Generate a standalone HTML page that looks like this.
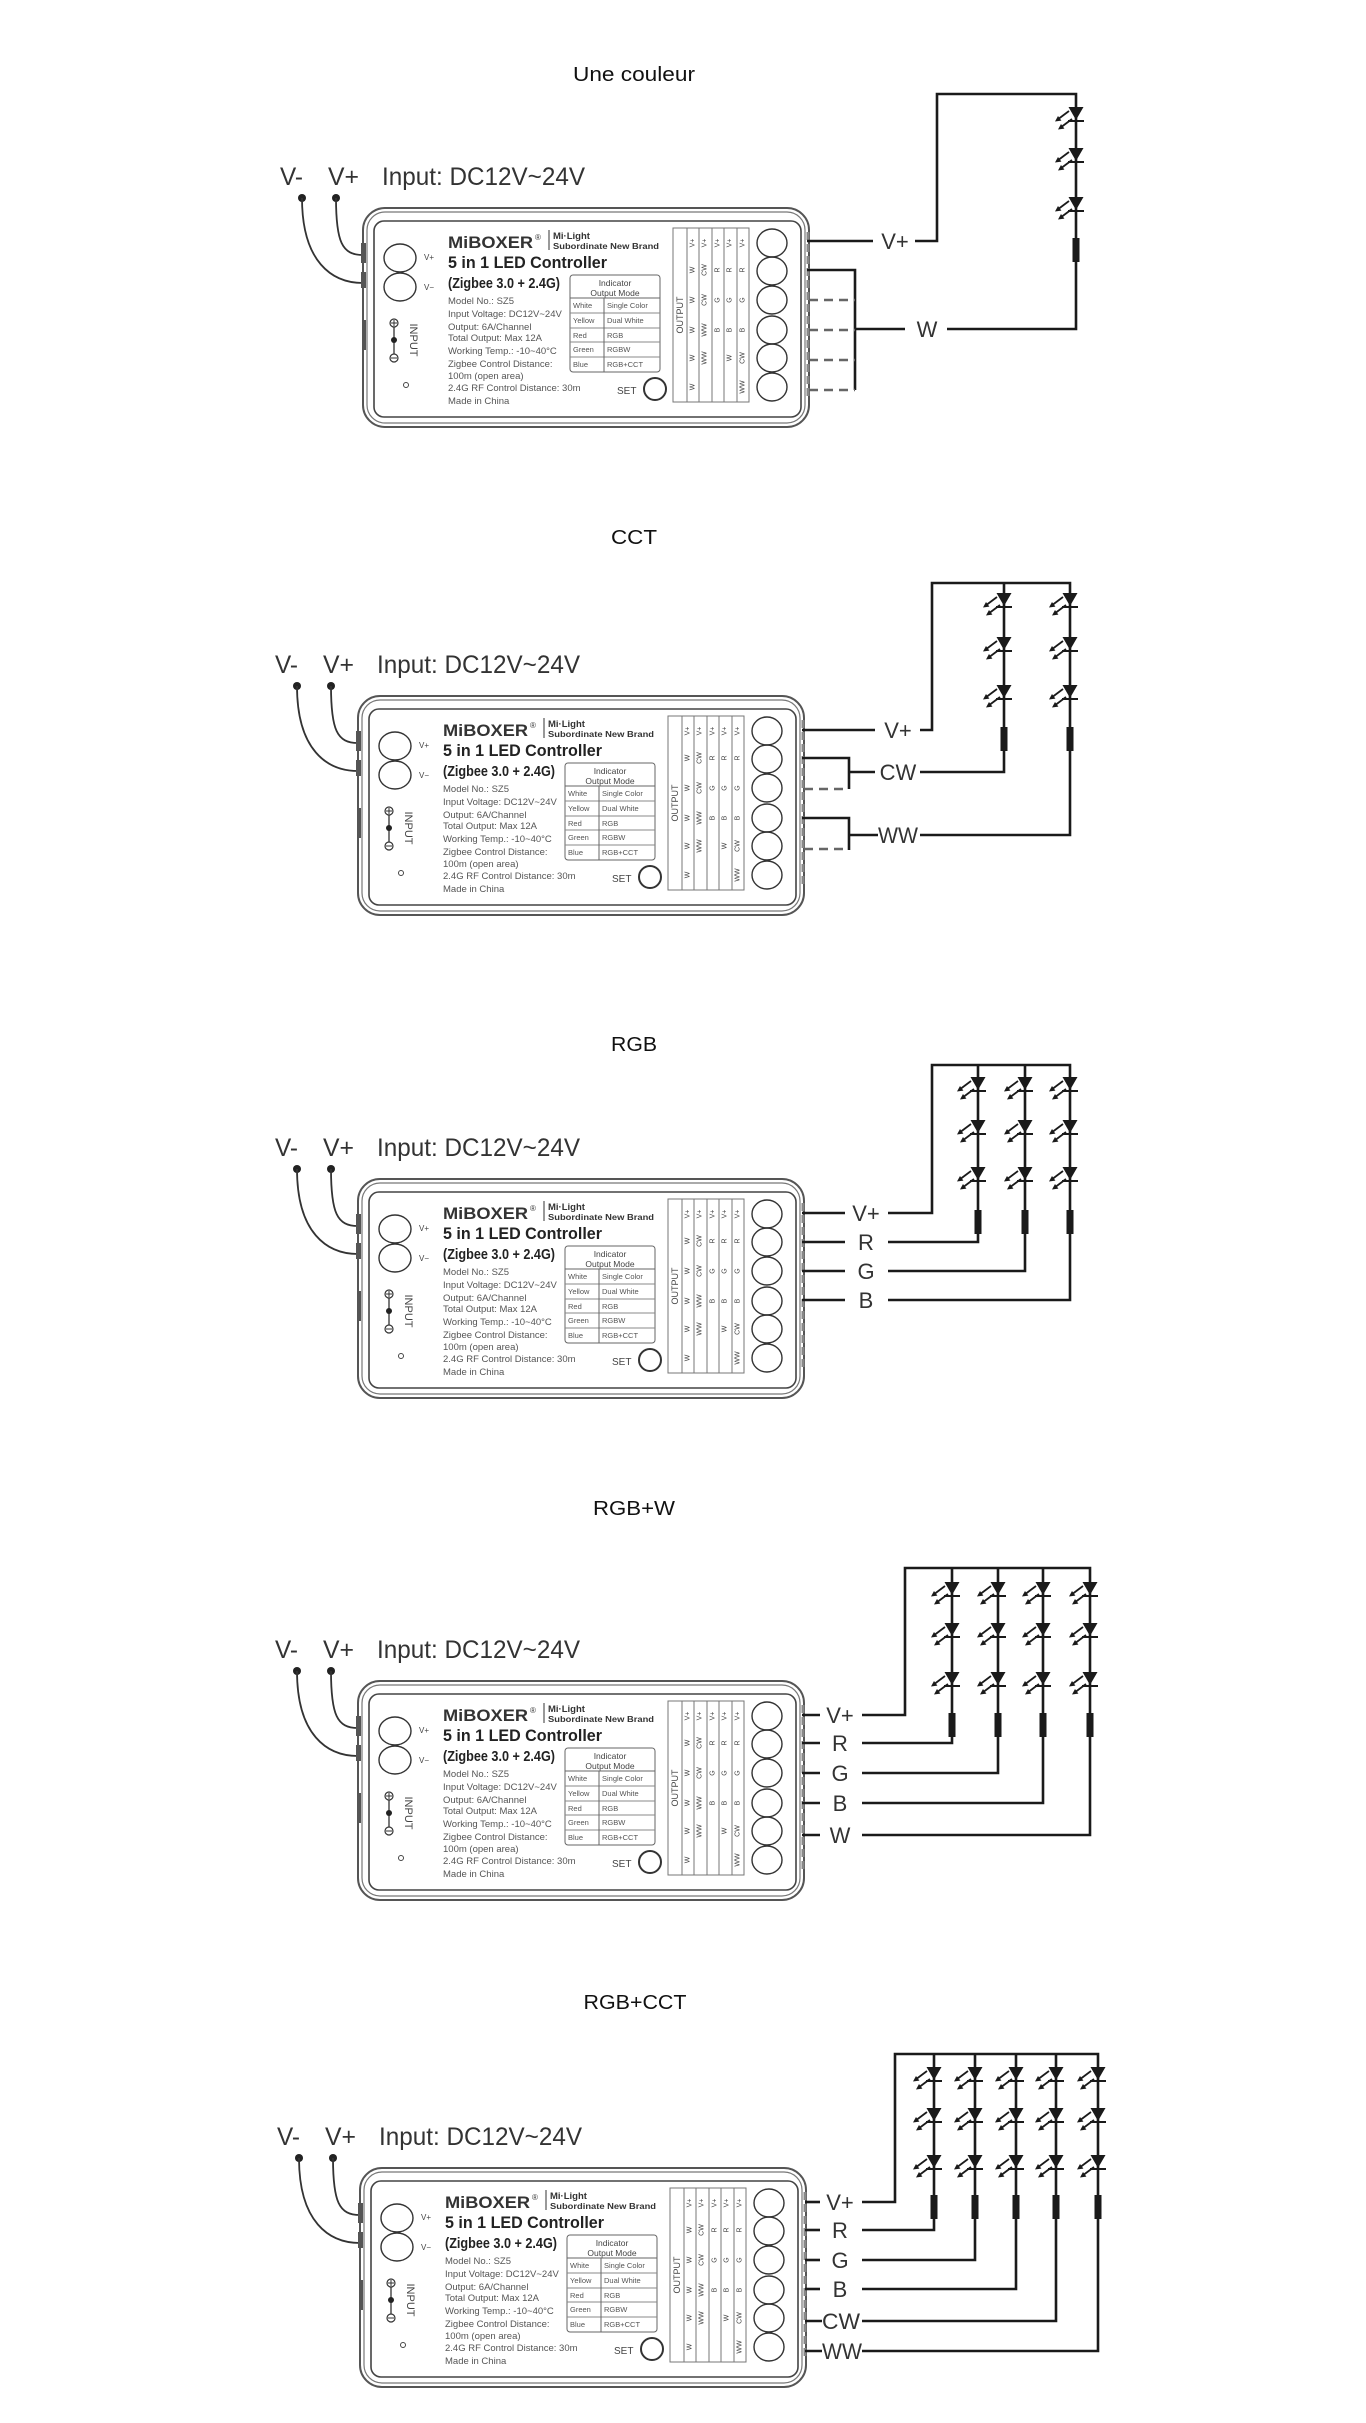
<!DOCTYPE html>
<html><head><meta charset="utf-8">
<style>
html,body{margin:0;padding:0;background:#fff;}
svg{display:block;}
text{font-family:"Liberation Sans",sans-serif;}
.t{font-size:20px;fill:#111;}
.lab{font-size:22px;fill:#333;}
.w{stroke:#1a1a1a;stroke-width:2.6;fill:none;}
.d{stroke:#666;stroke-width:2.6;fill:none;stroke-dasharray:9 6;}
.sp{font-size:9.5px;fill:#555;}
.tb{font-size:7.5px;fill:#555;}
.oc{font-size:7px;fill:#444;}
</style></head>
<body>
<svg width="1366" height="2423" viewBox="0 0 1366 2423" xmlns="http://www.w3.org/2000/svg">
<defs>
<g id="led">
<polygon points="-7.5,0 7.5,0 0,13" fill="#1a1a1a"/>
<line x1="-8" y1="14" x2="8" y2="14" stroke="#1a1a1a" stroke-width="2"/>
<line x1="-7" y1="4" x2="-17" y2="11.5" stroke="#1a1a1a" stroke-width="1.8"/>
<polygon points="-21,14.5 -14.6,13.6 -18,9" fill="#1a1a1a"/>
<line x1="-4" y1="12" x2="-14" y2="19.5" stroke="#1a1a1a" stroke-width="1.8"/>
<polygon points="-18,22.5 -11.6,21.6 -15,17" fill="#1a1a1a"/>
</g>
<rect id="res" x="-3.5" y="0" width="7" height="24" fill="#1a1a1a"/>
</defs>

<!-- Titles -->
<text class="t" x="634" y="81" text-anchor="middle" textLength="122" lengthAdjust="spacingAndGlyphs">Une couleur</text>
<text class="t" x="634" y="544" text-anchor="middle" textLength="46" lengthAdjust="spacingAndGlyphs">CCT</text>
<text class="t" x="634" y="1051" text-anchor="middle" textLength="46" lengthAdjust="spacingAndGlyphs">RGB</text>
<text class="t" x="634" y="1515" text-anchor="middle" textLength="82" lengthAdjust="spacingAndGlyphs">RGB+W</text>
<text class="t" x="635" y="2009" text-anchor="middle" textLength="103" lengthAdjust="spacingAndGlyphs">RGB+CCT</text>

<!-- ========== CONTROLLER 1 ========== -->
<g transform="translate(0,0)">
<text x="280" y="185" font-size="25" fill="#333" textLength="23" lengthAdjust="spacingAndGlyphs">V-</text>
<text x="328" y="185" font-size="25" fill="#333" textLength="31" lengthAdjust="spacingAndGlyphs">V+</text>
<text x="382" y="185" font-size="25" fill="#333" textLength="203" lengthAdjust="spacingAndGlyphs">Input: DC12V~24V</text>
<circle cx="302" cy="198" r="4" fill="#222"/><circle cx="336" cy="198" r="4" fill="#222"/>
<path d="M336 198 C336 242 342 255 363 255" stroke="#333" stroke-width="1.8" fill="none"/>
<path d="M302 198 C302 262 332 283 363 283" stroke="#333" stroke-width="1.8" fill="none"/>
<rect x="363" y="208" width="446" height="219" rx="22" fill="#fff" stroke="#555" stroke-width="2"/>
<rect x="367" y="212" width="438" height="211" rx="18" fill="none" stroke="#777" stroke-width="1.2"/>
<rect x="374" y="221" width="427" height="196" rx="10" fill="none" stroke="#444" stroke-width="1.6"/>
<rect x="361" y="243" width="5" height="20" fill="#555"/><rect x="361" y="272" width="5" height="16" fill="#555"/><rect x="362" y="320" width="4" height="30" fill="#555"/>
<line x1="808" y1="232" x2="808" y2="400" stroke="#888" stroke-width="3" stroke-dasharray="8 4"/>
<ellipse cx="400" cy="258" rx="16" ry="14" fill="none" stroke="#333" stroke-width="1.4"/>
<ellipse cx="400" cy="287" rx="16" ry="14" fill="none" stroke="#333" stroke-width="1.4"/>
<text x="424" y="260" font-size="8" fill="#444">V+</text><text x="424" y="290" font-size="8" fill="#444">V−</text>
<line x1="394" y1="323" x2="394" y2="358" stroke="#333" stroke-width="1.3"/>
<circle cx="394" cy="323" r="4" fill="#fff" stroke="#333" stroke-width="1.2"/><line x1="391" y1="323" x2="397" y2="323" stroke="#333"/><line x1="394" y1="320" x2="394" y2="326" stroke="#333"/>
<circle cx="394" cy="340" r="3" fill="#222"/>
<circle cx="394" cy="358" r="4" fill="#fff" stroke="#333" stroke-width="1.2"/><line x1="391" y1="358" x2="397" y2="358" stroke="#333"/>
<text transform="translate(410,340) rotate(90)" text-anchor="middle" font-size="11" fill="#444">INPUT</text>
<circle cx="406" cy="385" r="2.5" fill="none" stroke="#444"/>
<text x="448" y="248" font-size="17" font-weight="bold" fill="#333" textLength="85" lengthAdjust="spacingAndGlyphs">MiBOXER</text>
<text x="535" y="240" font-size="8" fill="#333">®</text>
<line x1="549" y1="230" x2="549" y2="250" stroke="#333"/>
<text x="553" y="239" font-size="9.5" font-weight="bold" font-family="Liberation Serif,serif" fill="#333">Mi·Light</text>
<text x="553" y="249" font-size="8.5" font-weight="bold" font-family="Liberation Serif,serif" fill="#333" textLength="106" lengthAdjust="spacingAndGlyphs">Subordinate New Brand</text>
<text x="448" y="268" font-size="17" font-weight="bold" fill="#222" textLength="159" lengthAdjust="spacingAndGlyphs">5 in 1 LED Controller</text>
<text x="448" y="288" font-size="15" font-weight="bold" fill="#222" textLength="112" lengthAdjust="spacingAndGlyphs">(Zigbee 3.0 + 2.4G)</text>
<text class="sp" x="448" y="304">Model No.: SZ5</text>
<text class="sp" x="448" y="317">Input Voltage: DC12V~24V</text>
<text class="sp" x="448" y="330">Output: 6A/Channel</text>
<text class="sp" x="448" y="341">Total Output: Max 12A</text>
<text class="sp" x="448" y="354">Working Temp.: -10~40°C</text>
<text class="sp" x="448" y="367">Zigbee Control Distance:</text>
<text class="sp" x="448" y="379">100m (open area)</text>
<text class="sp" x="448" y="391">2.4G RF Control Distance: 30m</text>
<text class="sp" x="448" y="404">Made in China</text>
<text x="617" y="394" font-size="10" fill="#444">SET</text>
<circle cx="655" cy="389" r="11" fill="none" stroke="#333" stroke-width="2"/>
<rect x="570" y="275" width="90" height="97" rx="3" fill="none" stroke="#666"/>
<text x="615" y="286" font-size="8.5" fill="#444" text-anchor="middle">Indicator</text>
<text x="615" y="296" font-size="8.5" fill="#444" text-anchor="middle">Output Mode</text>
<line x1="570" y1="298" x2="660" y2="298" stroke="#666"/><line x1="570" y1="313" x2="660" y2="313" stroke="#888"/><line x1="570" y1="328" x2="660" y2="328" stroke="#888"/><line x1="570" y1="342" x2="660" y2="342" stroke="#888"/><line x1="570" y1="357" x2="660" y2="357" stroke="#888"/>
<line x1="604" y1="298" x2="604" y2="372" stroke="#666"/>
<text class="tb" x="573" y="308">White</text><text class="tb" x="607" y="308">Single Color</text>
<text class="tb" x="573" y="323">Yellow</text><text class="tb" x="607" y="323">Dual White</text>
<text class="tb" x="573" y="338">Red</text><text class="tb" x="607" y="338">RGB</text>
<text class="tb" x="573" y="352">Green</text><text class="tb" x="607" y="352">RGBW</text>
<text class="tb" x="573" y="367">Blue</text><text class="tb" x="607" y="367">RGB+CCT</text>
<rect x="673" y="228" width="76" height="174" fill="none" stroke="#777"/>
<line x1="687" y1="228" x2="687" y2="402" stroke="#777"/><line x1="699" y1="228" x2="699" y2="402" stroke="#777"/><line x1="712" y1="228" x2="712" y2="402" stroke="#777"/><line x1="724" y1="228" x2="724" y2="402" stroke="#777"/><line x1="737" y1="228" x2="737" y2="402" stroke="#777"/>
<text transform="translate(680,315) rotate(-90)" text-anchor="middle" dominant-baseline="central" font-size="9" fill="#444">OUTPUT</text>
<g class="oc" text-anchor="middle" dominant-baseline="central">
<text transform="translate(693,243) rotate(-90)">V+</text><text transform="translate(693,270) rotate(-90)">W</text><text transform="translate(693,300) rotate(-90)">W</text><text transform="translate(693,330) rotate(-90)">W</text><text transform="translate(693,358) rotate(-90)">W</text><text transform="translate(693,387) rotate(-90)">W</text>
<text transform="translate(705,243) rotate(-90)">V+</text><text transform="translate(705,270) rotate(-90)">CW</text><text transform="translate(705,300) rotate(-90)">CW</text><text transform="translate(705,330) rotate(-90)">WW</text><text transform="translate(705,358) rotate(-90)">WW</text>
<text transform="translate(718,243) rotate(-90)">V+</text><text transform="translate(718,270) rotate(-90)">R</text><text transform="translate(718,300) rotate(-90)">G</text><text transform="translate(718,330) rotate(-90)">B</text>
<text transform="translate(730,243) rotate(-90)">V+</text><text transform="translate(730,270) rotate(-90)">R</text><text transform="translate(730,300) rotate(-90)">G</text><text transform="translate(730,330) rotate(-90)">B</text><text transform="translate(730,358) rotate(-90)">W</text>
<text transform="translate(743,243) rotate(-90)">V+</text><text transform="translate(743,270) rotate(-90)">R</text><text transform="translate(743,300) rotate(-90)">G</text><text transform="translate(743,330) rotate(-90)">B</text><text transform="translate(743,358) rotate(-90)">CW</text><text transform="translate(743,387) rotate(-90)">WW</text>
</g>
<g fill="none" stroke="#333" stroke-width="1.4">
<ellipse cx="772" cy="243" rx="15" ry="14"/><ellipse cx="772" cy="271" rx="15" ry="14"/><ellipse cx="772" cy="300" rx="15" ry="14"/><ellipse cx="772" cy="330" rx="15" ry="14"/><ellipse cx="772" cy="358" rx="15" ry="14"/><ellipse cx="772" cy="387" rx="15" ry="14"/>
</g>
</g>

<!-- ========== CONTROLLER 2 ========== -->
<g transform="translate(-5,488)">
<text x="280" y="185" font-size="25" fill="#333" textLength="23" lengthAdjust="spacingAndGlyphs">V-</text>
<text x="328" y="185" font-size="25" fill="#333" textLength="31" lengthAdjust="spacingAndGlyphs">V+</text>
<text x="382" y="185" font-size="25" fill="#333" textLength="203" lengthAdjust="spacingAndGlyphs">Input: DC12V~24V</text>
<circle cx="302" cy="198" r="4" fill="#222"/><circle cx="336" cy="198" r="4" fill="#222"/>
<path d="M336 198 C336 242 342 255 363 255" stroke="#333" stroke-width="1.8" fill="none"/>
<path d="M302 198 C302 262 332 283 363 283" stroke="#333" stroke-width="1.8" fill="none"/>
<rect x="363" y="208" width="446" height="219" rx="22" fill="#fff" stroke="#555" stroke-width="2"/>
<rect x="367" y="212" width="438" height="211" rx="18" fill="none" stroke="#777" stroke-width="1.2"/>
<rect x="374" y="221" width="427" height="196" rx="10" fill="none" stroke="#444" stroke-width="1.6"/>
<rect x="361" y="243" width="5" height="20" fill="#555"/><rect x="361" y="272" width="5" height="16" fill="#555"/><rect x="362" y="320" width="4" height="30" fill="#555"/>
<line x1="808" y1="232" x2="808" y2="400" stroke="#888" stroke-width="3" stroke-dasharray="8 4"/>
<ellipse cx="400" cy="258" rx="16" ry="14" fill="none" stroke="#333" stroke-width="1.4"/>
<ellipse cx="400" cy="287" rx="16" ry="14" fill="none" stroke="#333" stroke-width="1.4"/>
<text x="424" y="260" font-size="8" fill="#444">V+</text><text x="424" y="290" font-size="8" fill="#444">V−</text>
<line x1="394" y1="323" x2="394" y2="358" stroke="#333" stroke-width="1.3"/>
<circle cx="394" cy="323" r="4" fill="#fff" stroke="#333" stroke-width="1.2"/><line x1="391" y1="323" x2="397" y2="323" stroke="#333"/><line x1="394" y1="320" x2="394" y2="326" stroke="#333"/>
<circle cx="394" cy="340" r="3" fill="#222"/>
<circle cx="394" cy="358" r="4" fill="#fff" stroke="#333" stroke-width="1.2"/><line x1="391" y1="358" x2="397" y2="358" stroke="#333"/>
<text transform="translate(410,340) rotate(90)" text-anchor="middle" font-size="11" fill="#444">INPUT</text>
<circle cx="406" cy="385" r="2.5" fill="none" stroke="#444"/>
<text x="448" y="248" font-size="17" font-weight="bold" fill="#333" textLength="85" lengthAdjust="spacingAndGlyphs">MiBOXER</text>
<text x="535" y="240" font-size="8" fill="#333">®</text>
<line x1="549" y1="230" x2="549" y2="250" stroke="#333"/>
<text x="553" y="239" font-size="9.5" font-weight="bold" font-family="Liberation Serif,serif" fill="#333">Mi·Light</text>
<text x="553" y="249" font-size="8.5" font-weight="bold" font-family="Liberation Serif,serif" fill="#333" textLength="106" lengthAdjust="spacingAndGlyphs">Subordinate New Brand</text>
<text x="448" y="268" font-size="17" font-weight="bold" fill="#222" textLength="159" lengthAdjust="spacingAndGlyphs">5 in 1 LED Controller</text>
<text x="448" y="288" font-size="15" font-weight="bold" fill="#222" textLength="112" lengthAdjust="spacingAndGlyphs">(Zigbee 3.0 + 2.4G)</text>
<text class="sp" x="448" y="304">Model No.: SZ5</text>
<text class="sp" x="448" y="317">Input Voltage: DC12V~24V</text>
<text class="sp" x="448" y="330">Output: 6A/Channel</text>
<text class="sp" x="448" y="341">Total Output: Max 12A</text>
<text class="sp" x="448" y="354">Working Temp.: -10~40°C</text>
<text class="sp" x="448" y="367">Zigbee Control Distance:</text>
<text class="sp" x="448" y="379">100m (open area)</text>
<text class="sp" x="448" y="391">2.4G RF Control Distance: 30m</text>
<text class="sp" x="448" y="404">Made in China</text>
<text x="617" y="394" font-size="10" fill="#444">SET</text>
<circle cx="655" cy="389" r="11" fill="none" stroke="#333" stroke-width="2"/>
<rect x="570" y="275" width="90" height="97" rx="3" fill="none" stroke="#666"/>
<text x="615" y="286" font-size="8.5" fill="#444" text-anchor="middle">Indicator</text>
<text x="615" y="296" font-size="8.5" fill="#444" text-anchor="middle">Output Mode</text>
<line x1="570" y1="298" x2="660" y2="298" stroke="#666"/><line x1="570" y1="313" x2="660" y2="313" stroke="#888"/><line x1="570" y1="328" x2="660" y2="328" stroke="#888"/><line x1="570" y1="342" x2="660" y2="342" stroke="#888"/><line x1="570" y1="357" x2="660" y2="357" stroke="#888"/>
<line x1="604" y1="298" x2="604" y2="372" stroke="#666"/>
<text class="tb" x="573" y="308">White</text><text class="tb" x="607" y="308">Single Color</text>
<text class="tb" x="573" y="323">Yellow</text><text class="tb" x="607" y="323">Dual White</text>
<text class="tb" x="573" y="338">Red</text><text class="tb" x="607" y="338">RGB</text>
<text class="tb" x="573" y="352">Green</text><text class="tb" x="607" y="352">RGBW</text>
<text class="tb" x="573" y="367">Blue</text><text class="tb" x="607" y="367">RGB+CCT</text>
<rect x="673" y="228" width="76" height="174" fill="none" stroke="#777"/>
<line x1="687" y1="228" x2="687" y2="402" stroke="#777"/><line x1="699" y1="228" x2="699" y2="402" stroke="#777"/><line x1="712" y1="228" x2="712" y2="402" stroke="#777"/><line x1="724" y1="228" x2="724" y2="402" stroke="#777"/><line x1="737" y1="228" x2="737" y2="402" stroke="#777"/>
<text transform="translate(680,315) rotate(-90)" text-anchor="middle" dominant-baseline="central" font-size="9" fill="#444">OUTPUT</text>
<g class="oc" text-anchor="middle" dominant-baseline="central">
<text transform="translate(693,243) rotate(-90)">V+</text><text transform="translate(693,270) rotate(-90)">W</text><text transform="translate(693,300) rotate(-90)">W</text><text transform="translate(693,330) rotate(-90)">W</text><text transform="translate(693,358) rotate(-90)">W</text><text transform="translate(693,387) rotate(-90)">W</text>
<text transform="translate(705,243) rotate(-90)">V+</text><text transform="translate(705,270) rotate(-90)">CW</text><text transform="translate(705,300) rotate(-90)">CW</text><text transform="translate(705,330) rotate(-90)">WW</text><text transform="translate(705,358) rotate(-90)">WW</text>
<text transform="translate(718,243) rotate(-90)">V+</text><text transform="translate(718,270) rotate(-90)">R</text><text transform="translate(718,300) rotate(-90)">G</text><text transform="translate(718,330) rotate(-90)">B</text>
<text transform="translate(730,243) rotate(-90)">V+</text><text transform="translate(730,270) rotate(-90)">R</text><text transform="translate(730,300) rotate(-90)">G</text><text transform="translate(730,330) rotate(-90)">B</text><text transform="translate(730,358) rotate(-90)">W</text>
<text transform="translate(743,243) rotate(-90)">V+</text><text transform="translate(743,270) rotate(-90)">R</text><text transform="translate(743,300) rotate(-90)">G</text><text transform="translate(743,330) rotate(-90)">B</text><text transform="translate(743,358) rotate(-90)">CW</text><text transform="translate(743,387) rotate(-90)">WW</text>
</g>
<g fill="none" stroke="#333" stroke-width="1.4">
<ellipse cx="772" cy="243" rx="15" ry="14"/><ellipse cx="772" cy="271" rx="15" ry="14"/><ellipse cx="772" cy="300" rx="15" ry="14"/><ellipse cx="772" cy="330" rx="15" ry="14"/><ellipse cx="772" cy="358" rx="15" ry="14"/><ellipse cx="772" cy="387" rx="15" ry="14"/>
</g>
</g>

<!-- ========== CONTROLLER 3 ========== -->
<g transform="translate(-5,971)">
<text x="280" y="185" font-size="25" fill="#333" textLength="23" lengthAdjust="spacingAndGlyphs">V-</text>
<text x="328" y="185" font-size="25" fill="#333" textLength="31" lengthAdjust="spacingAndGlyphs">V+</text>
<text x="382" y="185" font-size="25" fill="#333" textLength="203" lengthAdjust="spacingAndGlyphs">Input: DC12V~24V</text>
<circle cx="302" cy="198" r="4" fill="#222"/><circle cx="336" cy="198" r="4" fill="#222"/>
<path d="M336 198 C336 242 342 255 363 255" stroke="#333" stroke-width="1.8" fill="none"/>
<path d="M302 198 C302 262 332 283 363 283" stroke="#333" stroke-width="1.8" fill="none"/>
<rect x="363" y="208" width="446" height="219" rx="22" fill="#fff" stroke="#555" stroke-width="2"/>
<rect x="367" y="212" width="438" height="211" rx="18" fill="none" stroke="#777" stroke-width="1.2"/>
<rect x="374" y="221" width="427" height="196" rx="10" fill="none" stroke="#444" stroke-width="1.6"/>
<rect x="361" y="243" width="5" height="20" fill="#555"/><rect x="361" y="272" width="5" height="16" fill="#555"/><rect x="362" y="320" width="4" height="30" fill="#555"/>
<line x1="808" y1="232" x2="808" y2="400" stroke="#888" stroke-width="3" stroke-dasharray="8 4"/>
<ellipse cx="400" cy="258" rx="16" ry="14" fill="none" stroke="#333" stroke-width="1.4"/>
<ellipse cx="400" cy="287" rx="16" ry="14" fill="none" stroke="#333" stroke-width="1.4"/>
<text x="424" y="260" font-size="8" fill="#444">V+</text><text x="424" y="290" font-size="8" fill="#444">V−</text>
<line x1="394" y1="323" x2="394" y2="358" stroke="#333" stroke-width="1.3"/>
<circle cx="394" cy="323" r="4" fill="#fff" stroke="#333" stroke-width="1.2"/><line x1="391" y1="323" x2="397" y2="323" stroke="#333"/><line x1="394" y1="320" x2="394" y2="326" stroke="#333"/>
<circle cx="394" cy="340" r="3" fill="#222"/>
<circle cx="394" cy="358" r="4" fill="#fff" stroke="#333" stroke-width="1.2"/><line x1="391" y1="358" x2="397" y2="358" stroke="#333"/>
<text transform="translate(410,340) rotate(90)" text-anchor="middle" font-size="11" fill="#444">INPUT</text>
<circle cx="406" cy="385" r="2.5" fill="none" stroke="#444"/>
<text x="448" y="248" font-size="17" font-weight="bold" fill="#333" textLength="85" lengthAdjust="spacingAndGlyphs">MiBOXER</text>
<text x="535" y="240" font-size="8" fill="#333">®</text>
<line x1="549" y1="230" x2="549" y2="250" stroke="#333"/>
<text x="553" y="239" font-size="9.5" font-weight="bold" font-family="Liberation Serif,serif" fill="#333">Mi·Light</text>
<text x="553" y="249" font-size="8.5" font-weight="bold" font-family="Liberation Serif,serif" fill="#333" textLength="106" lengthAdjust="spacingAndGlyphs">Subordinate New Brand</text>
<text x="448" y="268" font-size="17" font-weight="bold" fill="#222" textLength="159" lengthAdjust="spacingAndGlyphs">5 in 1 LED Controller</text>
<text x="448" y="288" font-size="15" font-weight="bold" fill="#222" textLength="112" lengthAdjust="spacingAndGlyphs">(Zigbee 3.0 + 2.4G)</text>
<text class="sp" x="448" y="304">Model No.: SZ5</text>
<text class="sp" x="448" y="317">Input Voltage: DC12V~24V</text>
<text class="sp" x="448" y="330">Output: 6A/Channel</text>
<text class="sp" x="448" y="341">Total Output: Max 12A</text>
<text class="sp" x="448" y="354">Working Temp.: -10~40°C</text>
<text class="sp" x="448" y="367">Zigbee Control Distance:</text>
<text class="sp" x="448" y="379">100m (open area)</text>
<text class="sp" x="448" y="391">2.4G RF Control Distance: 30m</text>
<text class="sp" x="448" y="404">Made in China</text>
<text x="617" y="394" font-size="10" fill="#444">SET</text>
<circle cx="655" cy="389" r="11" fill="none" stroke="#333" stroke-width="2"/>
<rect x="570" y="275" width="90" height="97" rx="3" fill="none" stroke="#666"/>
<text x="615" y="286" font-size="8.5" fill="#444" text-anchor="middle">Indicator</text>
<text x="615" y="296" font-size="8.5" fill="#444" text-anchor="middle">Output Mode</text>
<line x1="570" y1="298" x2="660" y2="298" stroke="#666"/><line x1="570" y1="313" x2="660" y2="313" stroke="#888"/><line x1="570" y1="328" x2="660" y2="328" stroke="#888"/><line x1="570" y1="342" x2="660" y2="342" stroke="#888"/><line x1="570" y1="357" x2="660" y2="357" stroke="#888"/>
<line x1="604" y1="298" x2="604" y2="372" stroke="#666"/>
<text class="tb" x="573" y="308">White</text><text class="tb" x="607" y="308">Single Color</text>
<text class="tb" x="573" y="323">Yellow</text><text class="tb" x="607" y="323">Dual White</text>
<text class="tb" x="573" y="338">Red</text><text class="tb" x="607" y="338">RGB</text>
<text class="tb" x="573" y="352">Green</text><text class="tb" x="607" y="352">RGBW</text>
<text class="tb" x="573" y="367">Blue</text><text class="tb" x="607" y="367">RGB+CCT</text>
<rect x="673" y="228" width="76" height="174" fill="none" stroke="#777"/>
<line x1="687" y1="228" x2="687" y2="402" stroke="#777"/><line x1="699" y1="228" x2="699" y2="402" stroke="#777"/><line x1="712" y1="228" x2="712" y2="402" stroke="#777"/><line x1="724" y1="228" x2="724" y2="402" stroke="#777"/><line x1="737" y1="228" x2="737" y2="402" stroke="#777"/>
<text transform="translate(680,315) rotate(-90)" text-anchor="middle" dominant-baseline="central" font-size="9" fill="#444">OUTPUT</text>
<g class="oc" text-anchor="middle" dominant-baseline="central">
<text transform="translate(693,243) rotate(-90)">V+</text><text transform="translate(693,270) rotate(-90)">W</text><text transform="translate(693,300) rotate(-90)">W</text><text transform="translate(693,330) rotate(-90)">W</text><text transform="translate(693,358) rotate(-90)">W</text><text transform="translate(693,387) rotate(-90)">W</text>
<text transform="translate(705,243) rotate(-90)">V+</text><text transform="translate(705,270) rotate(-90)">CW</text><text transform="translate(705,300) rotate(-90)">CW</text><text transform="translate(705,330) rotate(-90)">WW</text><text transform="translate(705,358) rotate(-90)">WW</text>
<text transform="translate(718,243) rotate(-90)">V+</text><text transform="translate(718,270) rotate(-90)">R</text><text transform="translate(718,300) rotate(-90)">G</text><text transform="translate(718,330) rotate(-90)">B</text>
<text transform="translate(730,243) rotate(-90)">V+</text><text transform="translate(730,270) rotate(-90)">R</text><text transform="translate(730,300) rotate(-90)">G</text><text transform="translate(730,330) rotate(-90)">B</text><text transform="translate(730,358) rotate(-90)">W</text>
<text transform="translate(743,243) rotate(-90)">V+</text><text transform="translate(743,270) rotate(-90)">R</text><text transform="translate(743,300) rotate(-90)">G</text><text transform="translate(743,330) rotate(-90)">B</text><text transform="translate(743,358) rotate(-90)">CW</text><text transform="translate(743,387) rotate(-90)">WW</text>
</g>
<g fill="none" stroke="#333" stroke-width="1.4">
<ellipse cx="772" cy="243" rx="15" ry="14"/><ellipse cx="772" cy="271" rx="15" ry="14"/><ellipse cx="772" cy="300" rx="15" ry="14"/><ellipse cx="772" cy="330" rx="15" ry="14"/><ellipse cx="772" cy="358" rx="15" ry="14"/><ellipse cx="772" cy="387" rx="15" ry="14"/>
</g>
</g>

<!-- ========== CONTROLLER 4 ========== -->
<g transform="translate(-5,1473)">
<text x="280" y="185" font-size="25" fill="#333" textLength="23" lengthAdjust="spacingAndGlyphs">V-</text>
<text x="328" y="185" font-size="25" fill="#333" textLength="31" lengthAdjust="spacingAndGlyphs">V+</text>
<text x="382" y="185" font-size="25" fill="#333" textLength="203" lengthAdjust="spacingAndGlyphs">Input: DC12V~24V</text>
<circle cx="302" cy="198" r="4" fill="#222"/><circle cx="336" cy="198" r="4" fill="#222"/>
<path d="M336 198 C336 242 342 255 363 255" stroke="#333" stroke-width="1.8" fill="none"/>
<path d="M302 198 C302 262 332 283 363 283" stroke="#333" stroke-width="1.8" fill="none"/>
<rect x="363" y="208" width="446" height="219" rx="22" fill="#fff" stroke="#555" stroke-width="2"/>
<rect x="367" y="212" width="438" height="211" rx="18" fill="none" stroke="#777" stroke-width="1.2"/>
<rect x="374" y="221" width="427" height="196" rx="10" fill="none" stroke="#444" stroke-width="1.6"/>
<rect x="361" y="243" width="5" height="20" fill="#555"/><rect x="361" y="272" width="5" height="16" fill="#555"/><rect x="362" y="320" width="4" height="30" fill="#555"/>
<line x1="808" y1="232" x2="808" y2="400" stroke="#888" stroke-width="3" stroke-dasharray="8 4"/>
<ellipse cx="400" cy="258" rx="16" ry="14" fill="none" stroke="#333" stroke-width="1.4"/>
<ellipse cx="400" cy="287" rx="16" ry="14" fill="none" stroke="#333" stroke-width="1.4"/>
<text x="424" y="260" font-size="8" fill="#444">V+</text><text x="424" y="290" font-size="8" fill="#444">V−</text>
<line x1="394" y1="323" x2="394" y2="358" stroke="#333" stroke-width="1.3"/>
<circle cx="394" cy="323" r="4" fill="#fff" stroke="#333" stroke-width="1.2"/><line x1="391" y1="323" x2="397" y2="323" stroke="#333"/><line x1="394" y1="320" x2="394" y2="326" stroke="#333"/>
<circle cx="394" cy="340" r="3" fill="#222"/>
<circle cx="394" cy="358" r="4" fill="#fff" stroke="#333" stroke-width="1.2"/><line x1="391" y1="358" x2="397" y2="358" stroke="#333"/>
<text transform="translate(410,340) rotate(90)" text-anchor="middle" font-size="11" fill="#444">INPUT</text>
<circle cx="406" cy="385" r="2.5" fill="none" stroke="#444"/>
<text x="448" y="248" font-size="17" font-weight="bold" fill="#333" textLength="85" lengthAdjust="spacingAndGlyphs">MiBOXER</text>
<text x="535" y="240" font-size="8" fill="#333">®</text>
<line x1="549" y1="230" x2="549" y2="250" stroke="#333"/>
<text x="553" y="239" font-size="9.5" font-weight="bold" font-family="Liberation Serif,serif" fill="#333">Mi·Light</text>
<text x="553" y="249" font-size="8.5" font-weight="bold" font-family="Liberation Serif,serif" fill="#333" textLength="106" lengthAdjust="spacingAndGlyphs">Subordinate New Brand</text>
<text x="448" y="268" font-size="17" font-weight="bold" fill="#222" textLength="159" lengthAdjust="spacingAndGlyphs">5 in 1 LED Controller</text>
<text x="448" y="288" font-size="15" font-weight="bold" fill="#222" textLength="112" lengthAdjust="spacingAndGlyphs">(Zigbee 3.0 + 2.4G)</text>
<text class="sp" x="448" y="304">Model No.: SZ5</text>
<text class="sp" x="448" y="317">Input Voltage: DC12V~24V</text>
<text class="sp" x="448" y="330">Output: 6A/Channel</text>
<text class="sp" x="448" y="341">Total Output: Max 12A</text>
<text class="sp" x="448" y="354">Working Temp.: -10~40°C</text>
<text class="sp" x="448" y="367">Zigbee Control Distance:</text>
<text class="sp" x="448" y="379">100m (open area)</text>
<text class="sp" x="448" y="391">2.4G RF Control Distance: 30m</text>
<text class="sp" x="448" y="404">Made in China</text>
<text x="617" y="394" font-size="10" fill="#444">SET</text>
<circle cx="655" cy="389" r="11" fill="none" stroke="#333" stroke-width="2"/>
<rect x="570" y="275" width="90" height="97" rx="3" fill="none" stroke="#666"/>
<text x="615" y="286" font-size="8.5" fill="#444" text-anchor="middle">Indicator</text>
<text x="615" y="296" font-size="8.5" fill="#444" text-anchor="middle">Output Mode</text>
<line x1="570" y1="298" x2="660" y2="298" stroke="#666"/><line x1="570" y1="313" x2="660" y2="313" stroke="#888"/><line x1="570" y1="328" x2="660" y2="328" stroke="#888"/><line x1="570" y1="342" x2="660" y2="342" stroke="#888"/><line x1="570" y1="357" x2="660" y2="357" stroke="#888"/>
<line x1="604" y1="298" x2="604" y2="372" stroke="#666"/>
<text class="tb" x="573" y="308">White</text><text class="tb" x="607" y="308">Single Color</text>
<text class="tb" x="573" y="323">Yellow</text><text class="tb" x="607" y="323">Dual White</text>
<text class="tb" x="573" y="338">Red</text><text class="tb" x="607" y="338">RGB</text>
<text class="tb" x="573" y="352">Green</text><text class="tb" x="607" y="352">RGBW</text>
<text class="tb" x="573" y="367">Blue</text><text class="tb" x="607" y="367">RGB+CCT</text>
<rect x="673" y="228" width="76" height="174" fill="none" stroke="#777"/>
<line x1="687" y1="228" x2="687" y2="402" stroke="#777"/><line x1="699" y1="228" x2="699" y2="402" stroke="#777"/><line x1="712" y1="228" x2="712" y2="402" stroke="#777"/><line x1="724" y1="228" x2="724" y2="402" stroke="#777"/><line x1="737" y1="228" x2="737" y2="402" stroke="#777"/>
<text transform="translate(680,315) rotate(-90)" text-anchor="middle" dominant-baseline="central" font-size="9" fill="#444">OUTPUT</text>
<g class="oc" text-anchor="middle" dominant-baseline="central">
<text transform="translate(693,243) rotate(-90)">V+</text><text transform="translate(693,270) rotate(-90)">W</text><text transform="translate(693,300) rotate(-90)">W</text><text transform="translate(693,330) rotate(-90)">W</text><text transform="translate(693,358) rotate(-90)">W</text><text transform="translate(693,387) rotate(-90)">W</text>
<text transform="translate(705,243) rotate(-90)">V+</text><text transform="translate(705,270) rotate(-90)">CW</text><text transform="translate(705,300) rotate(-90)">CW</text><text transform="translate(705,330) rotate(-90)">WW</text><text transform="translate(705,358) rotate(-90)">WW</text>
<text transform="translate(718,243) rotate(-90)">V+</text><text transform="translate(718,270) rotate(-90)">R</text><text transform="translate(718,300) rotate(-90)">G</text><text transform="translate(718,330) rotate(-90)">B</text>
<text transform="translate(730,243) rotate(-90)">V+</text><text transform="translate(730,270) rotate(-90)">R</text><text transform="translate(730,300) rotate(-90)">G</text><text transform="translate(730,330) rotate(-90)">B</text><text transform="translate(730,358) rotate(-90)">W</text>
<text transform="translate(743,243) rotate(-90)">V+</text><text transform="translate(743,270) rotate(-90)">R</text><text transform="translate(743,300) rotate(-90)">G</text><text transform="translate(743,330) rotate(-90)">B</text><text transform="translate(743,358) rotate(-90)">CW</text><text transform="translate(743,387) rotate(-90)">WW</text>
</g>
<g fill="none" stroke="#333" stroke-width="1.4">
<ellipse cx="772" cy="243" rx="15" ry="14"/><ellipse cx="772" cy="271" rx="15" ry="14"/><ellipse cx="772" cy="300" rx="15" ry="14"/><ellipse cx="772" cy="330" rx="15" ry="14"/><ellipse cx="772" cy="358" rx="15" ry="14"/><ellipse cx="772" cy="387" rx="15" ry="14"/>
</g>
</g>

<!-- ========== CONTROLLER 5 ========== -->
<g transform="translate(-3,1960)">
<text x="280" y="185" font-size="25" fill="#333" textLength="23" lengthAdjust="spacingAndGlyphs">V-</text>
<text x="328" y="185" font-size="25" fill="#333" textLength="31" lengthAdjust="spacingAndGlyphs">V+</text>
<text x="382" y="185" font-size="25" fill="#333" textLength="203" lengthAdjust="spacingAndGlyphs">Input: DC12V~24V</text>
<circle cx="302" cy="198" r="4" fill="#222"/><circle cx="336" cy="198" r="4" fill="#222"/>
<path d="M336 198 C336 242 342 255 363 255" stroke="#333" stroke-width="1.8" fill="none"/>
<path d="M302 198 C302 262 332 283 363 283" stroke="#333" stroke-width="1.8" fill="none"/>
<rect x="363" y="208" width="446" height="219" rx="22" fill="#fff" stroke="#555" stroke-width="2"/>
<rect x="367" y="212" width="438" height="211" rx="18" fill="none" stroke="#777" stroke-width="1.2"/>
<rect x="374" y="221" width="427" height="196" rx="10" fill="none" stroke="#444" stroke-width="1.6"/>
<rect x="361" y="243" width="5" height="20" fill="#555"/><rect x="361" y="272" width="5" height="16" fill="#555"/><rect x="362" y="320" width="4" height="30" fill="#555"/>
<line x1="808" y1="232" x2="808" y2="400" stroke="#888" stroke-width="3" stroke-dasharray="8 4"/>
<ellipse cx="400" cy="258" rx="16" ry="14" fill="none" stroke="#333" stroke-width="1.4"/>
<ellipse cx="400" cy="287" rx="16" ry="14" fill="none" stroke="#333" stroke-width="1.4"/>
<text x="424" y="260" font-size="8" fill="#444">V+</text><text x="424" y="290" font-size="8" fill="#444">V−</text>
<line x1="394" y1="323" x2="394" y2="358" stroke="#333" stroke-width="1.3"/>
<circle cx="394" cy="323" r="4" fill="#fff" stroke="#333" stroke-width="1.2"/><line x1="391" y1="323" x2="397" y2="323" stroke="#333"/><line x1="394" y1="320" x2="394" y2="326" stroke="#333"/>
<circle cx="394" cy="340" r="3" fill="#222"/>
<circle cx="394" cy="358" r="4" fill="#fff" stroke="#333" stroke-width="1.2"/><line x1="391" y1="358" x2="397" y2="358" stroke="#333"/>
<text transform="translate(410,340) rotate(90)" text-anchor="middle" font-size="11" fill="#444">INPUT</text>
<circle cx="406" cy="385" r="2.5" fill="none" stroke="#444"/>
<text x="448" y="248" font-size="17" font-weight="bold" fill="#333" textLength="85" lengthAdjust="spacingAndGlyphs">MiBOXER</text>
<text x="535" y="240" font-size="8" fill="#333">®</text>
<line x1="549" y1="230" x2="549" y2="250" stroke="#333"/>
<text x="553" y="239" font-size="9.5" font-weight="bold" font-family="Liberation Serif,serif" fill="#333">Mi·Light</text>
<text x="553" y="249" font-size="8.5" font-weight="bold" font-family="Liberation Serif,serif" fill="#333" textLength="106" lengthAdjust="spacingAndGlyphs">Subordinate New Brand</text>
<text x="448" y="268" font-size="17" font-weight="bold" fill="#222" textLength="159" lengthAdjust="spacingAndGlyphs">5 in 1 LED Controller</text>
<text x="448" y="288" font-size="15" font-weight="bold" fill="#222" textLength="112" lengthAdjust="spacingAndGlyphs">(Zigbee 3.0 + 2.4G)</text>
<text class="sp" x="448" y="304">Model No.: SZ5</text>
<text class="sp" x="448" y="317">Input Voltage: DC12V~24V</text>
<text class="sp" x="448" y="330">Output: 6A/Channel</text>
<text class="sp" x="448" y="341">Total Output: Max 12A</text>
<text class="sp" x="448" y="354">Working Temp.: -10~40°C</text>
<text class="sp" x="448" y="367">Zigbee Control Distance:</text>
<text class="sp" x="448" y="379">100m (open area)</text>
<text class="sp" x="448" y="391">2.4G RF Control Distance: 30m</text>
<text class="sp" x="448" y="404">Made in China</text>
<text x="617" y="394" font-size="10" fill="#444">SET</text>
<circle cx="655" cy="389" r="11" fill="none" stroke="#333" stroke-width="2"/>
<rect x="570" y="275" width="90" height="97" rx="3" fill="none" stroke="#666"/>
<text x="615" y="286" font-size="8.5" fill="#444" text-anchor="middle">Indicator</text>
<text x="615" y="296" font-size="8.5" fill="#444" text-anchor="middle">Output Mode</text>
<line x1="570" y1="298" x2="660" y2="298" stroke="#666"/><line x1="570" y1="313" x2="660" y2="313" stroke="#888"/><line x1="570" y1="328" x2="660" y2="328" stroke="#888"/><line x1="570" y1="342" x2="660" y2="342" stroke="#888"/><line x1="570" y1="357" x2="660" y2="357" stroke="#888"/>
<line x1="604" y1="298" x2="604" y2="372" stroke="#666"/>
<text class="tb" x="573" y="308">White</text><text class="tb" x="607" y="308">Single Color</text>
<text class="tb" x="573" y="323">Yellow</text><text class="tb" x="607" y="323">Dual White</text>
<text class="tb" x="573" y="338">Red</text><text class="tb" x="607" y="338">RGB</text>
<text class="tb" x="573" y="352">Green</text><text class="tb" x="607" y="352">RGBW</text>
<text class="tb" x="573" y="367">Blue</text><text class="tb" x="607" y="367">RGB+CCT</text>
<rect x="673" y="228" width="76" height="174" fill="none" stroke="#777"/>
<line x1="687" y1="228" x2="687" y2="402" stroke="#777"/><line x1="699" y1="228" x2="699" y2="402" stroke="#777"/><line x1="712" y1="228" x2="712" y2="402" stroke="#777"/><line x1="724" y1="228" x2="724" y2="402" stroke="#777"/><line x1="737" y1="228" x2="737" y2="402" stroke="#777"/>
<text transform="translate(680,315) rotate(-90)" text-anchor="middle" dominant-baseline="central" font-size="9" fill="#444">OUTPUT</text>
<g class="oc" text-anchor="middle" dominant-baseline="central">
<text transform="translate(693,243) rotate(-90)">V+</text><text transform="translate(693,270) rotate(-90)">W</text><text transform="translate(693,300) rotate(-90)">W</text><text transform="translate(693,330) rotate(-90)">W</text><text transform="translate(693,358) rotate(-90)">W</text><text transform="translate(693,387) rotate(-90)">W</text>
<text transform="translate(705,243) rotate(-90)">V+</text><text transform="translate(705,270) rotate(-90)">CW</text><text transform="translate(705,300) rotate(-90)">CW</text><text transform="translate(705,330) rotate(-90)">WW</text><text transform="translate(705,358) rotate(-90)">WW</text>
<text transform="translate(718,243) rotate(-90)">V+</text><text transform="translate(718,270) rotate(-90)">R</text><text transform="translate(718,300) rotate(-90)">G</text><text transform="translate(718,330) rotate(-90)">B</text>
<text transform="translate(730,243) rotate(-90)">V+</text><text transform="translate(730,270) rotate(-90)">R</text><text transform="translate(730,300) rotate(-90)">G</text><text transform="translate(730,330) rotate(-90)">B</text><text transform="translate(730,358) rotate(-90)">W</text>
<text transform="translate(743,243) rotate(-90)">V+</text><text transform="translate(743,270) rotate(-90)">R</text><text transform="translate(743,300) rotate(-90)">G</text><text transform="translate(743,330) rotate(-90)">B</text><text transform="translate(743,358) rotate(-90)">CW</text><text transform="translate(743,387) rotate(-90)">WW</text>
</g>
<g fill="none" stroke="#333" stroke-width="1.4">
<ellipse cx="772" cy="243" rx="15" ry="14"/><ellipse cx="772" cy="271" rx="15" ry="14"/><ellipse cx="772" cy="300" rx="15" ry="14"/><ellipse cx="772" cy="330" rx="15" ry="14"/><ellipse cx="772" cy="358" rx="15" ry="14"/><ellipse cx="772" cy="387" rx="15" ry="14"/>
</g>
</g>

<!-- ========== WIRING 1 ========== -->
<line class="w" x1="807" y1="241" x2="873" y2="241"/>
<text class="lab" x="895" y="249" text-anchor="middle">V+</text>
<path class="w" d="M915 241 H937 V94 H1076 V329 H947"/>
<use href="#led" x="1076" y="107"/><use href="#led" x="1076" y="148"/><use href="#led" x="1076" y="197"/>
<use href="#res" x="1076" y="238"/>
<text class="lab" x="927" y="337" text-anchor="middle">W</text>
<path class="w" d="M807 270 H855 V390"/>
<line class="w" x1="855" y1="329" x2="905" y2="329"/>
<line class="d" x1="809" y1="300" x2="855" y2="300"/><line class="d" x1="809" y1="330" x2="855" y2="330"/><line class="d" x1="809" y1="360" x2="855" y2="360"/><line class="d" x1="809" y1="390" x2="855" y2="390"/>

<!-- ========== WIRING 2 ========== -->
<line class="w" x1="802" y1="730" x2="875" y2="730"/>
<text class="lab" x="898" y="738" text-anchor="middle">V+</text>
<path class="w" d="M920 730 H932 V583 H1070 V835 H920"/>
<path class="w" d="M1004 583 V772 H920"/>
<use href="#led" x="1004" y="593"/><use href="#led" x="1004" y="637"/><use href="#led" x="1004" y="685"/>
<use href="#led" x="1070" y="593"/><use href="#led" x="1070" y="637"/><use href="#led" x="1070" y="685"/>
<use href="#res" x="1004" y="727"/><use href="#res" x="1070" y="727"/>
<text class="lab" x="898" y="780" text-anchor="middle">CW</text>
<text class="lab" x="898" y="843" text-anchor="middle" textLength="40" lengthAdjust="spacingAndGlyphs">WW</text>
<path class="w" d="M802 758 H849 V789"/><line class="w" x1="849" y1="772" x2="875" y2="772"/>
<line class="d" x1="804" y1="789" x2="849" y2="789"/>
<path class="w" d="M802 818 H849 V850"/><line class="w" x1="849" y1="835" x2="878" y2="835"/>
<line class="d" x1="804" y1="849" x2="849" y2="849"/>

<!-- ========== WIRING 3 ========== -->
<line class="w" x1="802" y1="1213" x2="845" y2="1213"/>
<text class="lab" x="866" y="1221" text-anchor="middle">V+</text>
<path class="w" d="M888 1213 H932 V1065 H1070 V1300 H888"/>
<path class="w" d="M978 1065 V1242 H888"/><path class="w" d="M1025 1065 V1271 H888"/>
<use href="#led" x="978" y="1077"/><use href="#led" x="978" y="1120"/><use href="#led" x="978" y="1167"/>
<use href="#led" x="1025" y="1077"/><use href="#led" x="1025" y="1120"/><use href="#led" x="1025" y="1167"/>
<use href="#led" x="1070" y="1077"/><use href="#led" x="1070" y="1120"/><use href="#led" x="1070" y="1167"/>
<use href="#res" x="978" y="1210"/><use href="#res" x="1025" y="1210"/><use href="#res" x="1070" y="1210"/>
<line class="w" x1="802" y1="1242" x2="845" y2="1242"/><text class="lab" x="866" y="1250" text-anchor="middle">R</text>
<line class="w" x1="802" y1="1271" x2="845" y2="1271"/><text class="lab" x="866" y="1279" text-anchor="middle">G</text>
<line class="w" x1="802" y1="1300" x2="845" y2="1300"/><text class="lab" x="866" y="1308" text-anchor="middle">B</text>

<!-- ========== WIRING 4 ========== -->
<line class="w" x1="802" y1="1715" x2="820" y2="1715"/>
<text class="lab" x="840" y="1723" text-anchor="middle">V+</text>
<path class="w" d="M862 1715 H905 V1568 H1090 V1835 H862"/>
<path class="w" d="M952 1568 V1743 H862"/><path class="w" d="M998 1568 V1773 H862"/><path class="w" d="M1043 1568 V1803 H862"/>
<use href="#led" x="952" y="1582"/><use href="#led" x="952" y="1623"/><use href="#led" x="952" y="1672"/>
<use href="#led" x="998" y="1582"/><use href="#led" x="998" y="1623"/><use href="#led" x="998" y="1672"/>
<use href="#led" x="1043" y="1582"/><use href="#led" x="1043" y="1623"/><use href="#led" x="1043" y="1672"/>
<use href="#led" x="1090" y="1582"/><use href="#led" x="1090" y="1623"/><use href="#led" x="1090" y="1672"/>
<use href="#res" x="952" y="1713"/><use href="#res" x="998" y="1713"/><use href="#res" x="1043" y="1713"/><use href="#res" x="1090" y="1713"/>
<line class="w" x1="802" y1="1743" x2="820" y2="1743"/><text class="lab" x="840" y="1751" text-anchor="middle">R</text>
<line class="w" x1="802" y1="1773" x2="820" y2="1773"/><text class="lab" x="840" y="1781" text-anchor="middle">G</text>
<line class="w" x1="802" y1="1803" x2="820" y2="1803"/><text class="lab" x="840" y="1811" text-anchor="middle">B</text>
<line class="w" x1="802" y1="1835" x2="820" y2="1835"/><text class="lab" x="840" y="1843" text-anchor="middle">W</text>

<!-- ========== WIRING 5 ========== -->
<line class="w" x1="805" y1="2202" x2="820" y2="2202"/>
<text class="lab" x="840" y="2210" text-anchor="middle">V+</text>
<path class="w" d="M862 2202 H895 V2054 H1098 V2351 H862"/>
<path class="w" d="M934 2054 V2230 H862"/><path class="w" d="M975 2054 V2260 H862"/><path class="w" d="M1016 2054 V2289 H862"/><path class="w" d="M1056 2054 V2321 H862"/>
<use href="#led" x="934" y="2067"/><use href="#led" x="934" y="2108"/><use href="#led" x="934" y="2155"/>
<use href="#led" x="975" y="2067"/><use href="#led" x="975" y="2108"/><use href="#led" x="975" y="2155"/>
<use href="#led" x="1016" y="2067"/><use href="#led" x="1016" y="2108"/><use href="#led" x="1016" y="2155"/>
<use href="#led" x="1056" y="2067"/><use href="#led" x="1056" y="2108"/><use href="#led" x="1056" y="2155"/>
<use href="#led" x="1098" y="2067"/><use href="#led" x="1098" y="2108"/><use href="#led" x="1098" y="2155"/>
<use href="#res" x="934" y="2195"/><use href="#res" x="975" y="2195"/><use href="#res" x="1016" y="2195"/><use href="#res" x="1056" y="2195"/><use href="#res" x="1098" y="2195"/>
<line class="w" x1="805" y1="2230" x2="820" y2="2230"/><text class="lab" x="840" y="2238" text-anchor="middle">R</text>
<line class="w" x1="805" y1="2260" x2="820" y2="2260"/><text class="lab" x="840" y="2268" text-anchor="middle">G</text>
<line class="w" x1="805" y1="2289" x2="820" y2="2289"/><text class="lab" x="840" y="2297" text-anchor="middle">B</text>
<line class="w" x1="805" y1="2321" x2="822" y2="2321"/><text class="lab" x="841" y="2329" text-anchor="middle" textLength="38" lengthAdjust="spacingAndGlyphs">CW</text>
<line class="w" x1="805" y1="2351" x2="822" y2="2351"/><text class="lab" x="842" y="2359" text-anchor="middle" textLength="40" lengthAdjust="spacingAndGlyphs">WW</text>
</svg>
</body></html>
